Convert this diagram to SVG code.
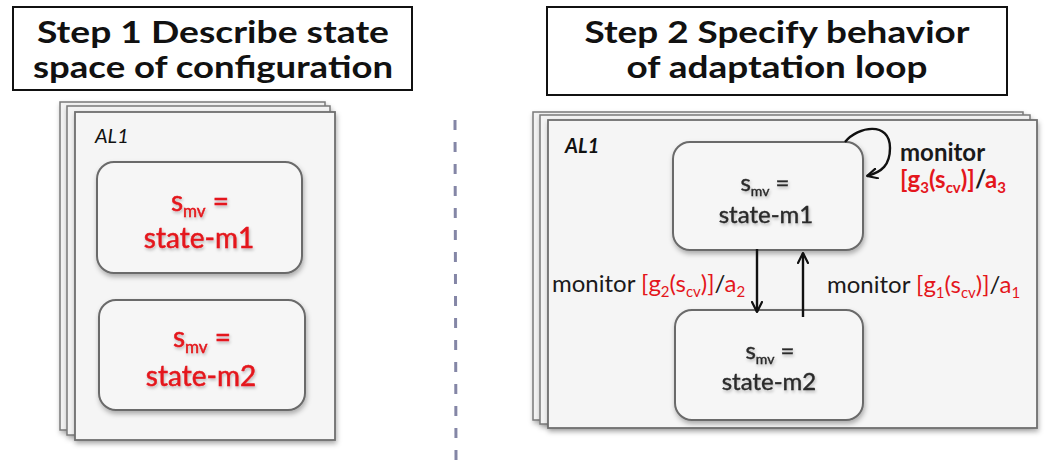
<svg xmlns="http://www.w3.org/2000/svg" width="1051" height="471" viewBox="0 0 1051 471">
<style>
.title{font-family:Lato,"Open Sans","Liberation Sans",sans-serif;font-weight:700;font-size:30px;fill:#111;text-anchor:middle}
.tbox{fill:#fff;stroke:#111;stroke-width:2}
.page{fill:#f3f3f3;stroke:#7a7a7a;stroke-width:1.5}
.pagefront{fill:#f5f5f5;stroke:#6f6f6f;stroke-width:1.8}
.node{fill:#f6f6f6;stroke:#6a6a6a;stroke-width:2}
.al{font-family:Lato,"Open Sans","Liberation Sans",sans-serif;font-style:italic;font-size:20px;fill:#111}
.ntl{font-family:Lato,"Open Sans","Liberation Sans",sans-serif;font-size:28px;fill:#e4161c;stroke:#e4161c;stroke-width:0.5;text-anchor:middle}
.ntr{font-family:Lato,"Open Sans","Liberation Sans",sans-serif;font-size:24px;fill:#2a2a2a;stroke:#2a2a2a;stroke-width:0.4;text-anchor:middle}
.lbl{font-family:Lato,"Open Sans","Liberation Sans",sans-serif;font-size:24px;fill:#1a1a1a}
.red{fill:#e4161c}
.conn{fill:none;stroke:#111;stroke-width:2.4}
.div{stroke:#8486a6;stroke-width:3;stroke-dasharray:10 12}
</style>
<defs>
<filter id="sh" x="-10%" y="-10%" width="130%" height="130%">
<feDropShadow dx="1" dy="3" stdDeviation="2.5" flood-color="#000" flood-opacity="0.3"/>
</filter>
<filter id="tsh" x="-10%" y="-20%" width="130%" height="150%">
<feDropShadow dx="1" dy="2" stdDeviation="1.5" flood-color="#000" flood-opacity="0.25"/>
</filter>
<marker id="arr" viewBox="0 0 12 12" refX="11" refY="6" markerWidth="12" markerHeight="12" markerUnits="userSpaceOnUse" orient="auto">
<path d="M1,1 L11,6 L1,11" fill="none" stroke="#111" stroke-width="2.2" stroke-linecap="round" stroke-linejoin="round"/>
</marker>
</defs>
<rect width="1051" height="471" fill="#fff"/>

<g id="title1">
<rect class="tbox" x="13" y="7" width="399" height="83"/>
<text class="title" x="213" y="43" textLength="352" lengthAdjust="spacingAndGlyphs">Step 1 Describe state</text>
<text class="title" x="213" y="78" textLength="360" lengthAdjust="spacingAndGlyphs">space of configuration</text>
</g>

<g id="title2">
<rect class="tbox" x="547" y="7" width="460" height="88"/>
<text class="title" x="777" y="43" textLength="385" lengthAdjust="spacingAndGlyphs">Step 2 Specify behavior</text>
<text class="title" x="777" y="78" textLength="301" lengthAdjust="spacingAndGlyphs">of adaptation loop</text>
</g>

<line id="divider" class="div" x1="455" y1="120" x2="456" y2="460"/>

<g id="AL1-left">
<rect class="page" x="60" y="102" width="265" height="328" filter="url(#sh)"/>
<rect class="page" x="67" y="106" width="263" height="329" filter="url(#sh)"/>
<rect class="pagefront" x="75" y="112" width="260" height="328" filter="url(#sh)"/>
<text class="al" x="95" y="143">AL1</text>
</g>

<g id="node-left-m1">
<rect class="node" x="97" y="162" width="205" height="111" rx="17" filter="url(#sh)"/>
<text class="ntl" x="200" y="211" filter="url(#tsh)">s<tspan font-size="17" dy="6">mv</tspan><tspan dy="-6"> =</tspan></text>
<text class="ntl" x="199" y="248" filter="url(#tsh)">state-m1</text>
</g>

<g id="node-left-m2">
<rect class="node" x="99" y="300" width="206" height="110" rx="17" filter="url(#sh)"/>
<text class="ntl" x="202" y="347" filter="url(#tsh)">s<tspan font-size="17" dy="6">mv</tspan><tspan dy="-6"> =</tspan></text>
<text class="ntl" x="201" y="386" filter="url(#tsh)">state-m2</text>
</g>

<g id="AL1-right">
<rect class="page" x="533" y="112" width="490" height="308" filter="url(#sh)"/>
<rect class="page" x="540" y="115" width="490" height="309" filter="url(#sh)"/>
<rect class="pagefront" x="548" y="120" width="489" height="308" filter="url(#sh)"/>
<text class="al" x="565" y="153" font-weight="700">AL1</text>
</g>

<g id="node-right-m1">
<rect class="node" x="673" y="142" width="190" height="108" rx="17" filter="url(#sh)"/>
<text class="ntr" x="765" y="191" filter="url(#tsh)">s<tspan font-size="14" dy="5">mv</tspan><tspan dy="-5"> =</tspan></text>
<text class="ntr" x="766" y="223" filter="url(#tsh)">state-m1</text>
</g>

<g id="node-right-m2">
<rect class="node" x="675" y="310" width="188" height="110" rx="17" filter="url(#sh)"/>
<text class="ntr" x="770" y="359" filter="url(#tsh)">s<tspan font-size="14" dy="5">mv</tspan><tspan dy="-5"> =</tspan></text>
<text class="ntr" x="769" y="390" filter="url(#tsh)">state-m2</text>
</g>

<g id="connectors">
<path class="conn" d="M757,249 L757,312" marker-end="url(#arr)"/>
<path class="conn" d="M803,317 L803,253" marker-end="url(#arr)"/>
<path class="conn" d="M845,142 C858,126 890,121 890,148 C890,165 882,172 867,176" marker-end="url(#arr)"/>
</g>

<g id="labels">
<text class="lbl" x="552" y="292">monitor <tspan class="red">[g<tspan font-size="15" dy="5">2</tspan><tspan dy="-5">(s</tspan><tspan font-size="15" dy="5">cv</tspan><tspan dy="-5">)]</tspan></tspan>/<tspan class="red">a<tspan font-size="15" dy="5">2</tspan></tspan></text>
<text class="lbl" x="827" y="293">monitor <tspan class="red">[g<tspan font-size="15" dy="5">1</tspan><tspan dy="-5">(s</tspan><tspan font-size="15" dy="5">cv</tspan><tspan dy="-5">)]</tspan></tspan>/<tspan class="red">a<tspan font-size="15" dy="5">1</tspan></tspan></text>
<text class="lbl" x="900" y="161" font-weight="700">monitor</text>
<text class="lbl" x="900" y="188" font-weight="700"><tspan class="red">[g<tspan font-size="15" dy="5">3</tspan><tspan dy="-5">(s</tspan><tspan font-size="15" dy="5">cv</tspan><tspan dy="-5">)]</tspan></tspan>/<tspan class="red">a<tspan font-size="15" dy="5">3</tspan></tspan></text>
</g>
</svg>
